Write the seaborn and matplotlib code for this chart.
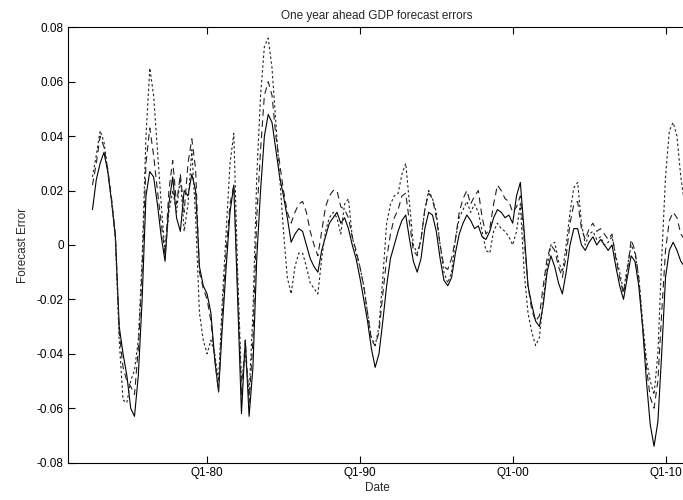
import matplotlib
matplotlib.use('Agg')
import matplotlib.pyplot as plt
import matplotlib.ticker as mticker
import seaborn as sns
import numpy as np
import pandas as pd

# quarterly observations, first one is Q3 1972
start_year = 1972.5

solid = [
    0.013, 0.024, 0.030, 0.034, 0.027, 0.016, 0.003, -0.030, -0.040, -0.048,
    -0.060, -0.063, -0.048, -0.020, 0.018, 0.027, 0.025, 0.015, 0.003, -0.006,
    0.015, 0.025, 0.010, 0.005, 0.020, 0.018, 0.026, 0.020, -0.008, -0.015,
    -0.018, -0.025, -0.042, -0.054, -0.030, -0.008, 0.012, 0.022, -0.020, -0.062,
    -0.035, -0.063, -0.045, -0.005, 0.020, 0.040, 0.048, 0.045, 0.035, 0.025,
    0.018, 0.010, 0.001, 0.004, 0.006, 0.005, 0.000, -0.005, -0.008, -0.010,
    -0.002, 0.003, 0.008, 0.010, 0.012, 0.008, 0.010, 0.006, 0.000, -0.005,
    -0.012, -0.020, -0.028, -0.038, -0.045, -0.040, -0.028, -0.015, -0.005, 0.000,
    0.005, 0.009, 0.011, 0.002, -0.006, -0.010, -0.005, 0.006, 0.012, 0.011,
    0.005, -0.005, -0.013, -0.015, -0.012, -0.003, 0.004, 0.008, 0.011, 0.009,
    0.006, 0.007, 0.003, 0.002, 0.005, 0.010, 0.013, 0.012, 0.010, 0.011,
    0.008, 0.018, 0.023, 0.005, -0.015, -0.022, -0.028, -0.030, -0.022, -0.010,
    -0.004, -0.008, -0.014, -0.018, -0.010, 0.000, 0.006, 0.006, 0.000, -0.002,
    0.001, 0.003, 0.000, 0.002, 0.000, -0.002, 0.000, -0.008, -0.015, -0.020,
    -0.012, -0.004, -0.006, -0.015, -0.030, -0.050, -0.066, -0.074, -0.065, -0.040,
    -0.012, -0.002, 0.001, -0.002, -0.006, -0.008,
]

dashed = [
    0.022, 0.030, 0.040, 0.036, 0.028, 0.017, 0.004, -0.032, -0.045, -0.050,
    -0.052, -0.055, -0.038, -0.010, 0.030, 0.043, 0.033, 0.020, 0.008, -0.004,
    0.020, 0.031, 0.015, 0.026, 0.012, 0.030, 0.039, 0.028, -0.010, -0.016,
    -0.020, -0.028, -0.042, -0.054, -0.025, -0.002, 0.015, 0.022, -0.015, -0.055,
    -0.035, -0.058, -0.035, 0.010, 0.035, 0.055, 0.060, 0.055, 0.040, 0.030,
    0.020, 0.012, 0.008, 0.012, 0.015, 0.016, 0.012, 0.005, 0.000, -0.004,
    0.005, 0.014, 0.018, 0.020, 0.020, 0.014, 0.013, 0.010, 0.003, -0.002,
    -0.008, -0.015, -0.025, -0.035, -0.037, -0.032, -0.018, -0.005, 0.004, 0.010,
    0.013, 0.018, 0.019, 0.008, -0.002, -0.004, 0.002, 0.013, 0.019, 0.017,
    0.010, 0.000, -0.008, -0.009, -0.005, 0.002, 0.012, 0.017, 0.020, 0.015,
    0.018, 0.020, 0.010, 0.004, 0.006, 0.015, 0.022, 0.020, 0.017, 0.016,
    0.012, 0.014, 0.018, 0.002, -0.015, -0.024, -0.028, -0.026, -0.015, -0.005,
    0.000, -0.002, -0.008, -0.012, -0.004, 0.008, 0.015, 0.016, 0.006, 0.002,
    0.006, 0.008, 0.005, 0.006, 0.004, 0.002, 0.004, -0.005, -0.012, -0.018,
    -0.010, 0.002, -0.002, -0.012, -0.030, -0.045, -0.056, -0.060, -0.050, -0.025,
    -0.002, 0.009, 0.012, 0.010, 0.004, 0.002,
]

dotted = [
    0.025, 0.033, 0.042, 0.038, 0.027, 0.016, 0.002, -0.035, -0.057, -0.058,
    -0.050, -0.046, -0.035, -0.005, 0.040, 0.065, 0.055, 0.035, 0.015, -0.003,
    0.012, 0.020, 0.012, 0.025, 0.005, 0.015, 0.035, 0.010, -0.025, -0.035,
    -0.040, -0.035, -0.040, -0.050, -0.020, 0.005, 0.030, 0.041, -0.010, -0.050,
    -0.040, -0.055, -0.025, 0.025, 0.055, 0.073, 0.076, 0.065, 0.045, 0.025,
    0.005, -0.012, -0.018, -0.008, -0.003, -0.003, -0.008, -0.014, -0.016, -0.018,
    -0.005, 0.005, 0.010, 0.012, 0.010, 0.004, 0.015, 0.017, 0.003, -0.003,
    -0.008, -0.015, -0.025, -0.034, -0.037, -0.030, -0.012, 0.008, 0.015, 0.018,
    0.019, 0.026, 0.030, 0.015, 0.000, -0.003, 0.002, 0.013, 0.020, 0.017,
    0.012, 0.000, -0.010, -0.014, -0.010, 0.002, 0.010, 0.013, 0.016, 0.012,
    0.015, 0.012, 0.005, -0.002, -0.003, 0.005, 0.008, 0.006, 0.005, 0.003,
    0.000, 0.005, 0.015, -0.010, -0.025, -0.032, -0.037, -0.034, -0.020, -0.008,
    0.000, 0.001, -0.006, -0.010, 0.000, 0.012, 0.021, 0.023, 0.008, 0.000,
    0.004, 0.005, 0.002, 0.003, 0.000, 0.001, 0.003, -0.004, -0.010, -0.017,
    -0.008, 0.000, -0.003, -0.012, -0.028, -0.042, -0.050, -0.055, -0.040, -0.005,
    0.025, 0.042, 0.045, 0.040, 0.025, 0.015,
]

assert len(solid) == len(dashed) == len(dotted)
dates = start_year + np.arange(len(solid)) / 4.0

df = pd.DataFrame({'date': dates, 'solid': solid, 'dashed': dashed, 'dotted': dotted})

x_ticks = [1980, 1990, 2000, 2010]
x_tick_labels = ['Q1-80', 'Q1-90', 'Q1-00', 'Q1-10']
y_ticks = [-0.08, -0.06, -0.04, -0.02, 0, 0.02, 0.04, 0.06, 0.08]

sns.set_theme(style='white')
plt.rcParams['font.family'] = ['Liberation Sans', 'DejaVu Sans']

fig = plt.figure(figsize=(6.83, 5.0), dpi=100)
ax = fig.add_axes([0.0996, 0.0748, 0.905, 0.8706])

sns.lineplot(data=df, x='date', y='solid', ax=ax, color='black', lw=0.8)
sns.lineplot(data=df, x='date', y='dashed', ax=ax, color='#222222', lw=0.8,
             linestyle=(0, (6, 4)))
sns.lineplot(data=df, x='date', y='dotted', ax=ax, color='#222222', lw=0.8,
             linestyle=(0, (2.2, 2.2)))

ax.set_xlim(1970.9, 2011.35)
ax.set_ylim(-0.08, 0.08)
ax.set_xticks(x_ticks)
ax.set_xticklabels(x_tick_labels)
ax.set_yticks(y_ticks)
ax.yaxis.set_major_formatter(mticker.FuncFormatter(lambda v, p: '0' if abs(v) < 1e-9 else f'{v:.2f}'))

ax.tick_params(direction='in', length=5, width=0.8, colors='black', labelsize=8.5,
               top=True, right=False, bottom=True, left=True, pad=3)
for s in ax.spines.values():
    s.set_color('black')
    s.set_linewidth(0.8)

ax.set_title('One year ahead GDP forecast errors', fontsize=8.5, pad=6)
ax.set_xlabel('Date', fontsize=8.5, labelpad=2)
ax.set_ylabel('Forecast Error', fontsize=8.5, labelpad=6)

fig.savefig('out.png', dpi=100)
